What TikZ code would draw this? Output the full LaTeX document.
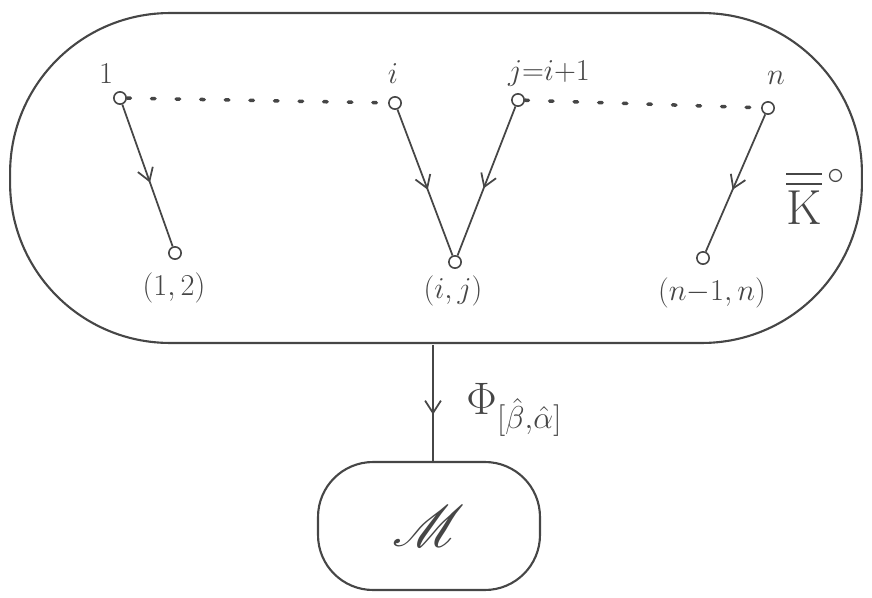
\documentclass[tikz,border=0pt]{standalone}
\usepackage{amsmath}
\usepackage{mathrsfs}
\usetikzlibrary{arrows.meta}
\usetikzlibrary{decorations.markings, math}
\definecolor{pencil}{RGB}{70,70,70}

\tikzset{
vertex/.style={draw=pencil,circle,fill=white,inner sep=0pt,minimum size=7pt,line width=0.9pt},
midarrow/.style={postaction={decorate},decoration={markings,
  mark=at position #1 with {\arrow{Straight Barb[length=7pt,width=9pt]}}}},
midarrow/.default=0.55,
lbl/.style={text=pencil,font=\LARGE}
}

\begin{document}
\begin{tikzpicture}[x=0.02cm,y=-0.02cm,line width=1pt,draw=pencil]
\useasboundingbox (0,0) rectangle (872,598);

% the big set
\node[draw=pencil,line width=1.2pt,rounded corners=3.2cm,minimum width=17.04cm,minimum height=6.6cm] (K) at (436,178) {};
\node[lbl,font=\huge,scale=1.35] (Klab) at (816,197) {$\overline{\overline{\mathrm{K}}}^{\,\circ}$};

% top vertices
\node[vertex] (v1) at (120,98) {};
\node[vertex] (vi) at (395,103) {};
\node[vertex] (vj) at (518,100) {};
\node[vertex] (vn) at (768,108) {};
\node[lbl] at (106,74) {$1$};
\node[lbl] at (393,74) {$i$};
\node[lbl] at (549,74) {$j{=}i{+}1$};
\node[lbl] at (776,78) {$n$};

% bottom vertices
\node[vertex] (e12) at (175,253) {};
\node[vertex] (eij) at (455,262) {};
\node[vertex] (enn) at (703,258) {};
\node[lbl] at (174,288) {$(1,2)$};
\node[lbl] at (453,291) {$(i,j)$};
\node[lbl] at (712,293) {$(n{-}1,n)$};

\draw[line width=2pt,dash pattern=on 2pt off 12pt,line cap=round] (v1) -- (vi);
\draw[line width=2pt,dash pattern=on 2pt off 12pt,line cap=round] (vj) -- (vn);

\draw[midarrow] (v1) -- (e12);
\draw[midarrow] (vi) -- (eij);
\draw[midarrow] (vj) -- (eij);
\draw[midarrow] (vn) -- (enn);

% the map
\node[draw=pencil,line width=1.2pt,rounded corners=1.1cm,minimum width=4.44cm,minimum height=2.56cm] (M) at (429,526) {};
\node[lbl,font=\huge,scale=1.6] (Mlab) at (M.center) {$\mathscr{M}$};
\coordinate (top) at (433,345);
\draw[midarrow=0.6] (top) -- (M.north -| top);
\node[lbl,font=\huge,scale=1.25,anchor=west] (Phi) at (458,410) {$\Phi_{[\hat\beta,\hat\alpha]}$};
\end{tikzpicture}
\end{document}
